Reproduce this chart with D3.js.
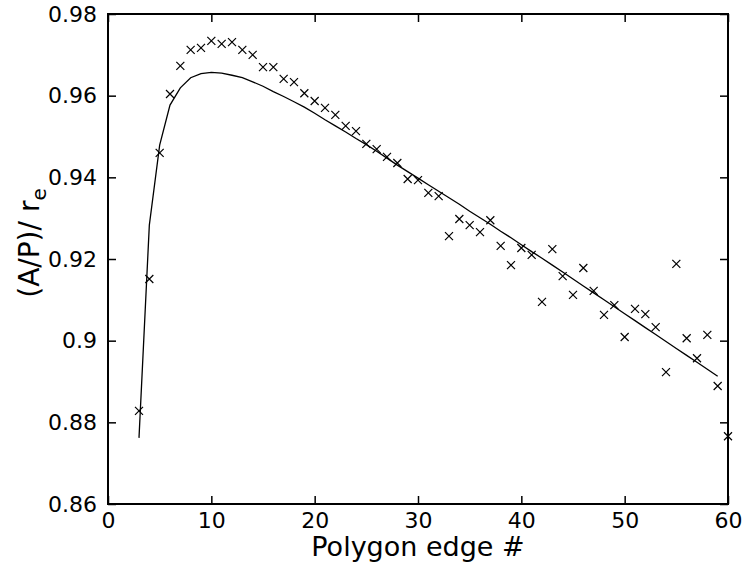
<!DOCTYPE html>
<html>
<head>
<meta charset="utf-8">
<script src="https://cdn.jsdelivr.net/npm/d3@7"></script>
<style>
  body { margin: 0; background: #fff; }
  svg { display: block; font-family: "DejaVu Sans", sans-serif; }
</style>
</head>
<body>
<svg id="chart" width="744" height="569"></svg>
<script>
// Measured ratio per polygon edge count (markers)
const edges = d3.range(3, 61);
const measured = [
  0.8828, 0.9151, 0.9460, 0.9604, 0.9673, 0.9712, 0.9717, 0.9734, 0.9727, 0.9731,
  0.9712, 0.9700, 0.9670, 0.9670, 0.9641, 0.9633, 0.9606, 0.9587, 0.9570, 0.9553,
  0.9526, 0.9513, 0.9482, 0.9469, 0.9450, 0.9435, 0.9396, 0.9393, 0.9362, 0.9354,
  0.9256, 0.9298, 0.9283, 0.9266, 0.9295, 0.9232, 0.9185, 0.9227, 0.9210, 0.9095,
  0.9224, 0.9158, 0.9112, 0.9178, 0.9122, 0.9063, 0.9087, 0.9009, 0.9078, 0.9065,
  0.9033, 0.8923, 0.9188, 0.9006, 0.8957, 0.9014, 0.8889, 0.8766
];

// Model curve, edges 3..59
const modelEdges = d3.range(3, 60);
const model = [
  0.8762, 0.9283, 0.9479, 0.9577, 0.9619, 0.9644, 0.9654, 0.9657, 0.9655, 0.9650,
  0.9644, 0.9634, 0.9623, 0.9610, 0.9598, 0.9585, 0.9572, 0.9557, 0.9541, 0.9526,
  0.9511, 0.9495, 0.9480, 0.9464, 0.9447, 0.9430, 0.9414, 0.9398, 0.9382, 0.9366,
  0.9350, 0.9334, 0.9317, 0.9301, 0.9285, 0.9268, 0.9252, 0.9235, 0.9218, 0.9202,
  0.9185, 0.9168, 0.9151, 0.9134, 0.9117, 0.9100, 0.9083, 0.9066, 0.9049, 0.9032,
  0.9015, 0.8998, 0.8981, 0.8964, 0.8947, 0.8930, 0.8913
];

const xTicks = [0, 10, 20, 30, 40, 50, 60];
const yTicks = [0.86, 0.88, 0.90, 0.92, 0.94, 0.96, 0.98];

const svg = d3.select("#chart");
const margin = { left: 108, right: 16, top: 14, bottom: 65 };
const W = 744, H = 569;
const x = d3.scaleLinear().domain([0, 60]).range([margin.left, W - margin.right]);
const y = d3.scaleLinear().domain([0.86, 0.98]).range([H - margin.bottom, margin.top]);

svg.append("rect").attr("width", W).attr("height", H).attr("fill", "#fff");

const tickLen = 8;
const fmtY = d => String(+d.toFixed(2));

// Axes with inward ticks on all four sides
const axB = svg.append("g").attr("transform", `translate(0,${y.range()[0]})`)
  .call(d3.axisBottom(x).tickValues(xTicks).tickSizeInner(-tickLen).tickSizeOuter(0).tickPadding(5).tickFormat(d3.format("d")));
const axT = svg.append("g").attr("transform", `translate(0,${y.range()[1]})`)
  .call(d3.axisTop(x).tickValues(xTicks).tickSizeInner(-tickLen).tickSizeOuter(0).tickFormat(""));
const axL = svg.append("g").attr("transform", `translate(${x.range()[0]},0)`)
  .call(d3.axisLeft(y).tickValues(yTicks).tickSizeInner(-tickLen).tickSizeOuter(0).tickPadding(11).tickFormat(fmtY));
const axR = svg.append("g").attr("transform", `translate(${x.range()[1]},0)`)
  .call(d3.axisRight(y).tickValues(yTicks).tickSizeInner(-tickLen).tickSizeOuter(0).tickFormat(""));

[axB, axT, axL, axR].forEach(g => {
  g.select(".domain").remove();
  g.attr("font-family", null).attr("font-size", null);
  g.selectAll(".tick line").attr("stroke", "#000").attr("stroke-width", 1.5);
  g.selectAll(".tick text").attr("fill", "#000").style("font-size", "22px")
    .style("font-family", "'DejaVu Sans', sans-serif");
});
axB.selectAll(".tick text").attr("dy", "0.85em");

// Frame
svg.append("rect")
  .attr("x", x.range()[0]).attr("y", y.range()[1])
  .attr("width", x.range()[1] - x.range()[0])
  .attr("height", y.range()[0] - y.range()[1])
  .attr("fill", "none").attr("stroke", "#000").attr("stroke-width", 2);

// Model line
const line = d3.line().x((d, i) => x(modelEdges[i])).y(d => y(d));
svg.append("path").datum(model)
  .attr("d", line)
  .attr("fill", "none").attr("stroke", "#000").attr("stroke-width", 1.3);

// Cross markers
const s = 4;
svg.append("g").selectAll("path").data(measured).join("path")
  .attr("transform", (d, i) => `translate(${x(edges[i])},${y(d)})`)
  .attr("d", `M${-s},${-s}L${s},${s}M${-s},${s}L${s},${-s}`)
  .attr("stroke", "#000").attr("stroke-width", 1.2).attr("fill", "none");

// Axis titles
svg.append("text")
  .attr("x", (x.range()[0] + x.range()[1]) / 2).attr("y", 556)
  .attr("text-anchor", "middle").style("font-size", "27px")
  .text("Polygon edge #");

const yl = svg.append("text")
  .attr("transform", `translate(39,243) rotate(-90)`)
  .attr("text-anchor", "middle").style("font-size", "28px");
yl.append("tspan").text("(A/P)/");
yl.append("tspan").attr("dx", 9).text("r");
yl.append("tspan").attr("dy", 7).style("font-size", "20px").text("e");
</script>
</body>
</html>
